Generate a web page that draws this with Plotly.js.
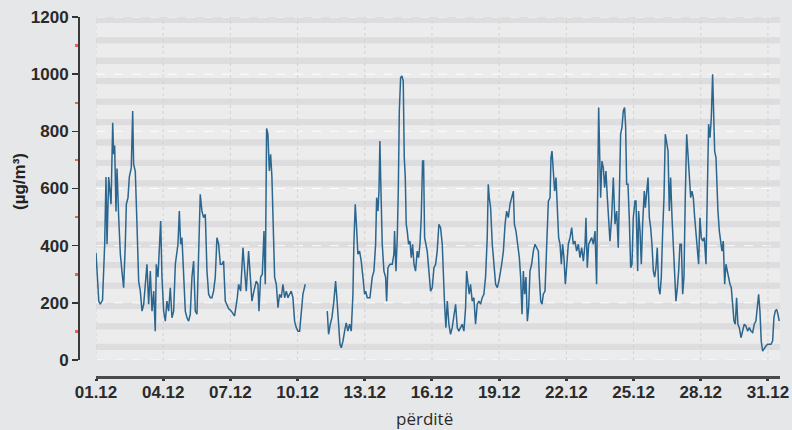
<!DOCTYPE html>
<html>
<head>
<meta charset="utf-8">
<script src="https://cdn.plot.ly/plotly-3.0.1.min.js"></script>
<style>html,body{margin:0;padding:0;background:#e6e7e9;}#chart{width:792px;height:430px;}</style>
</head>
<body>
<div id="chart"></div>
<script>
// hours since 01.12 00:00
const hours = [0,3,4.6,7,9.3,10.7,11.8,13.6,16.1,17.9,18.9,20,21.4,22.5,24.3,26.1,27.8,29.6,31.4,32.5,34.3,35.7,37.8,39.3,40.3,42.1,43.9,45.7,47.5,49.3,51.1,52.8,54.6,56.4,58.2,60,61.8,63.5,64.6,66.4,68.2,69.3,70.7,72.5,74.3,76,77.8,79.6,81.4,83.2,85,87.8,89.3,90.7,92.1,93.9,95.7,97.5,99.2,101,102.8,104.6,106.4,108.2,110,111.7,113.5,115.3,117.1,118.9,120.7,122.5,124.2,126,127.8,129.6,131.4,133.2,135,136.7,138.5,140.3,142.1,
145,148.5,151.4,152.8,155,157.5,159.3,161,163.5,165.7,167.1,169.2,171.7,173.5,174.6,176.4,178.2,180,181.4,182.8,184.2,185.7,187.1,188.5,190,191.4,193.2,195,196.7,198.5,200.3,202.1,203.9,205.7,207.4,209.2,211,212.8,214.6,216.4,218.2,219.9,221.7,224.2,236,247.8,249.2,251,252.8,254.9,256.7,258.1,259.9,261.4,262.8,264.6,266.4,268.1,269.9,271.7,273.5,275.3,276.3,277.8,279.2,280.6,282.4,284.2,286,287.8,
288.9,290.7,293.5,296,297.8,299.6,300.7,302.1,303.2,304.2,305,306.7,308.5,310.3,311.4,312.8,315,317.4,319.2,319.9,321.4,322.8,323.9,325,326.4,327.8,329.2,330.3,331.4,332.4,333.5,334.9,336.4,337.8,339.2,340.7,342.4,344.2,345.7,347.1,348.5,349.9,351,352.1,353.5,354.9,356.7,358.5,360.3,362.1,363.9,365.6,367.4,369.2,371,372.1,373.5,374.9,376.4,378.1,379.9,381.7,383.5,385.3,387.1,388.8,390.6,392.4,394.2,396,397.1,398.5,399.9,401.3,403.1,404.9,406.7,408.5,410.3,412.1,413.8,415.6,417.4,419.2,420.3,421.4,422.8,424.6,426.4,428.2,430,431.7,
434.7,436.5,438.3,440,441.8,443.6,445.4,447.2,448.3,450,451.8,453.6,455,456.5,457.9,459.3,460.7,462.2,463.6,465,466.8,468.6,470.4,472.2,474,475,476.5,477.9,479.3,481.1,482.9,484.7,486.5,487.5,488.6,490,491.4,492.9,494.3,495.7,497.2,498.6,500,501.4,502.9,504.3,506.1,507.9,509.7,511.4,513.2,515,516.8,518.6,520.4,522.2,524,525,526.4,527.9,529.3,531.1,532.9,534.7,536.4,537.5,538.6,539.6,540.7,542.1,543.6,545,546.4,547.9,549.3,550.7,552.5,554.3,556.1,557.9,559.6,560.7,562.1,563.6,565,566.4,567.5,568.6,570,571.4,572.9,574.3,575.7,577.5,
578.6,580.4,581.4,582.9,584.3,585.7,587.5,588.6,590,591.5,592.9,594.3,595.7,597.2,598.6,600,601.4,602.9,604.3,605.7,607.2,608.6,610,611.4,612.9,614.3,615.7,617.2,618.6,620,621.4,622.9,624.3,625.7,627.2,628.6,630,631.4,632.9,634.3,635.7,637.2,638.6,640,641.5,642.9,644.3,645.7,647.1,648.6,650,651.8,653.6,655,656.4,657.9,659.3,660.7,661.8,662.9,664.3,665.4,666.4,667.9,669.3,670.7,672.1,673.6,675,676.4,677.8,679.3,680.7,682.1,683.6,685,686.4,687.8,689.3,691.1,692.9,694.6,696.4,698.2,700,701.8,703.6,705.3,707.1,708.9,710,711.4,712.8,714.3,716.1,717.8,719.6,721.4,723.2,725,726.4,727.8,729.3,730.7,732.1];

// concentration (µg/m³)
const conc = [375,205,195,210,405,640,405,640,545,830,720,750,520,670,500,370,310,253,405,545,568,640,673,871,685,660,475,276,241,171,195,253,335,195,311,171,241,101,335,290,405,486,290,171,136,206,171,253,148,171,335,405,521,405,428,311,171,148,136,160,290,346,171,160,405,580,521,498,510,311,230,218,218,241,290,428,405,335,335,346,206,195,180,
171,154,218,265,241,393,311,241,381,253,206,241,276,265,171,290,300,451,265,810,790,661,720,640,405,290,265,183,230,218,265,218,241,218,230,241,218,136,113,101,101,171,230,265,null,171,90,125,148,206,276,218,125,55,43,66,101,130,101,125,101,230,405,545,463,370,381,346,290,230,
241,218,218,290,311,405,568,521,591,766,638,405,311,290,206,323,335,335,370,451,311,428,591,871,988,994,976,708,638,475,451,405,416,358,405,335,311,381,358,405,498,696,696,428,405,381,311,241,253,323,335,381,475,463,405,290,195,113,206,125,90,113,148,195,113,101,113,125,101,183,311,265,230,265,206,218,125,195,206,195,218,230,290,428,615,568,533,405,323,265,253,276,
335,381,475,521,498,545,568,591,475,451,405,358,290,160,311,230,290,136,183,311,335,381,405,393,381,290,206,195,230,241,381,556,568,708,731,661,591,638,498,428,405,335,405,358,265,335,405,428,463,405,416,381,405,358,393,346,405,498,323,405,416,428,405,451,265,638,883,731,568,696,673,603,661,568,475,416,498,638,475,521,393,638,790,815,871,883,815,615,615,498,323,335,498,556,
556,311,521,451,335,475,591,533,591,638,498,463,405,311,290,323,393,253,230,290,451,568,790,755,731,521,638,498,381,265,206,253,311,405,405,230,290,568,790,720,638,568,591,568,498,451,405,335,498,428,416,428,335,638,825,778,848,1000,871,731,708,591,521,451,405,381,416,265,335,311,290,265,253,195,136,125,218,125,113,78,101,125,119,101,113,101,96,125,136,206,230,171,66,31,43,49,55,55,55,66,148,171,177,160,136];

const tickHours = [0,72,144,216,288,360,432,504,576,648,720];
const tickLabels = ['01.12','04.12','07.12','10.12','13.12','16.12','19.12','22.12','25.12','28.12','31.12'];
const yTicks = [0,200,400,600,800,1000,1200];

const xEnd = 732.9;
const shapes = [];
// plot background region
shapes.push({type:'rect', layer:'below', xref:'x', yref:'y', x0:0, x1:xEnd, y0:0, y1:1205,
  fillcolor:'#ececed', line:{width:0}});
// horizontal stripes
for (let k = 0; k < 17; k++) {
  const b = 35 + 71.5*k;
  shapes.push({type:'rect', layer:'below', xref:'x', yref:'y', x0:0, x1:xEnd, y0:b, y1:Math.min(b+22,1205),
    fillcolor:'#dddddf', line:{width:0}});
}
// dashed white level lines
yTicks.forEach(v => shapes.push({type:'line', layer:'below', xref:'x', yref:'y', x0:0, x1:xEnd, y0:v, y1:v,
  line:{color:'rgba(255,255,255,0.9)', width:1, dash:'dash'}}));
// faint vertical lines at ticks
tickHours.forEach(h => shapes.push({type:'line', layer:'below', xref:'x', yref:'y', x0:h, x1:h, y0:0, y1:1205,
  line:{color:'#d3d3d5', width:1, dash:'dot'}}));

const trace = {
  x: hours, y: conc, type:'scatter', mode:'lines',
  line:{color:'#2b668f', width:1.5}, connectgaps:false, hoverinfo:'skip'
};

const W = 702, H = 360;
const tf = {family:'Liberation Sans, Arial, sans-serif', size:17, color:'#2a2a2a', weight:'bold'};
const layout = {
  width:792, height:430,
  margin:{l:78, r:12, t:17, b:53},
  paper_bgcolor:'#e6e7e9', plot_bgcolor:'#e6e7e9',
  showlegend:false,
  xaxis:{
    domain:[18/W, 1], anchor:'free', position:0,
    range:[0, xEnd], showgrid:false, zeroline:false,
    showline:true, linecolor:'#4a4a4a', linewidth:3,
    tickmode:'array', tickvals:tickHours, ticktext:tickLabels,
    ticks:'outside', ticklen:2, tickwidth:3, tickcolor:'#333',
    ticklabelstandoff:-3,
    tickfont:tf
  },
  yaxis:{
    domain:[17/H, 1], anchor:'free', position:0,
    range:[0,1200], showgrid:false, zeroline:false,
    showline:true, linecolor:'#3a3a3a', linewidth:1.5,
    tickmode:'linear', tick0:0, dtick:200,
    ticks:'outside', ticklen:6, tickwidth:1.5, tickcolor:'#333',
    tickfont:tf,
    minor:{tick0:100, dtick:200, ticks:'outside', ticklen:3, tickwidth:2.5, tickcolor:'#ff5a50'}
  },
  shapes: shapes,
  annotations:[
    {text:'(µg/m³)', xref:'paper', yref:'paper', x:(19-78)/W, y:(377-182)/H, showarrow:false,
     textangle:-90, xanchor:'center', yanchor:'middle',
     font:{family:'Liberation Sans, Arial, sans-serif', size:17, color:'#222', weight:'bold'}},
    {text:'përditë', xref:'paper', yref:'paper', x:(424-78)/W, y:(377-418)/H, showarrow:false,
     xanchor:'center', yanchor:'middle',
     font:{family:'Open Sans, sans-serif', size:17, color:'#2a2a2a'}}
  ]
};

Plotly.newPlot('chart', [trace], layout, {staticPlot:true, displayModeBar:false});
</script>
</body>
</html>
